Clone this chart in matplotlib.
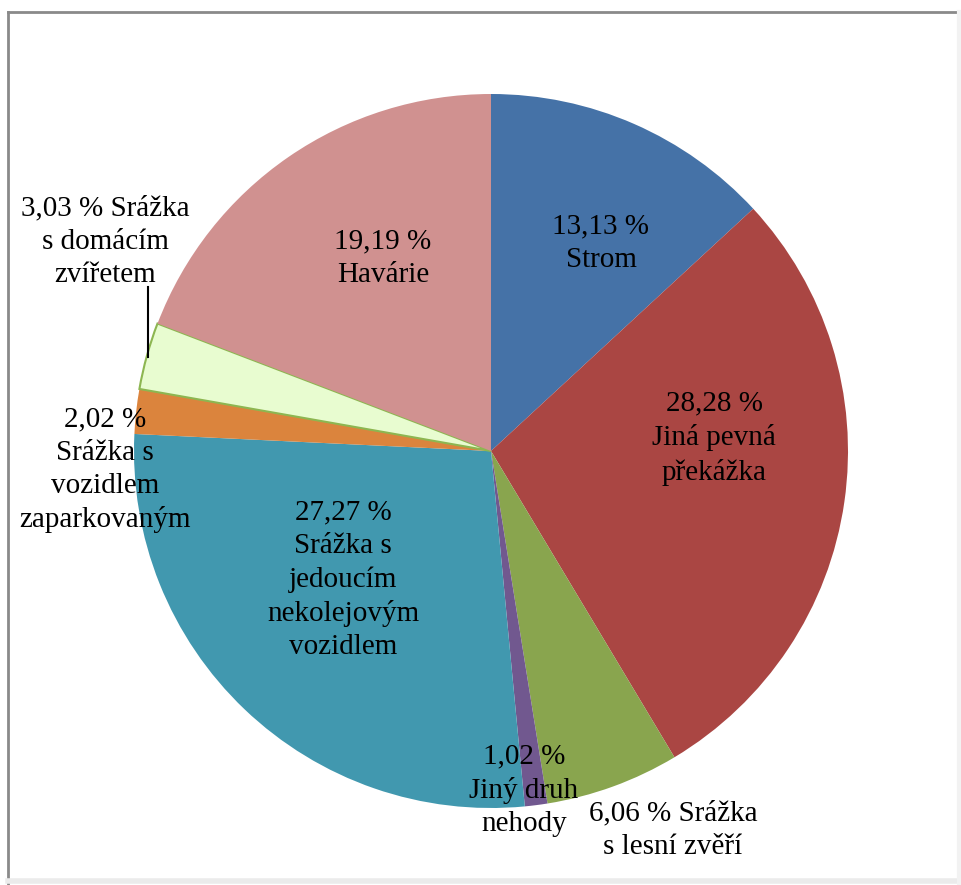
import matplotlib.pyplot as plt

plt.rcParams['font.family'] = ['Liberation Serif', 'DejaVu Serif']

labels = ['13,13 %\nStrom',
          '28,28 %\nJiná pevná\npřekážka',
          '6,06 % Srážka\ns lesní zvěří',
          '1,02 %\nJiný druh\nnehody',
          '27,27 %\nSrážka s\njedoucím\nnekolejovým\nvozidlem',
          '2,02 %\nSrážka s\nvozidlem\nzaparkovaným',
          '3,03 % Srážka\ns domácím\nzvířetem',
          '19,19 %\nHavárie']
values = [13.13, 28.28, 6.06, 1.02, 27.27, 2.02, 3.03, 19.19]
colors = ['#4572A7', '#AA4643', '#89A54E', '#71588F',
          '#4198AF', '#DB843D', '#E8FCD0', '#D09190']
explode = [0, 0, 0, 0, 0, 0, 0.025, 0]

# label anchor points (pixel space, y measured from top)
label_pos = [(601, 243), (714, 438), (673, 830), (524, 790),
             (343, 580), (105, 470), (105, 242), (383, 258)]

W, H = 961, 885
fig = plt.figure(figsize=(W / 100, H / 100), dpi=100)
ax = fig.add_axes([0, 0, 1, 1])

wedges, _ = ax.pie(values, colors=colors, startangle=90, counterclock=False,
                   center=(491, H - 451), radius=357, explode=explode,
                   wedgeprops=dict(linewidth=0), frame=True)
wedges[6].set_edgecolor('#8DB651')
wedges[6].set_linewidth(1.5)

ax.set_xlim(0, W)
ax.set_ylim(0, H)
ax.set_aspect('auto')
ax.axis('off')

for text, (px, py) in zip(labels, label_pos):
    ax.text(px, H - py, text, ha='center', va='center', fontsize=21,
            linespacing=1.36, color='black')

# leader line for the small slice
ax.plot([148, 148], [H - 287, H - 357], color='black', lw=1.5)

# chart frame: grey top/left, faint shadow right/bottom
ax.plot([8, W], [H - 12, H - 12], color='#8a8a8a', lw=2)
ax.plot([8, 8], [H - 12, 0], color='#8a8a8a', lw=2)
ax.plot([8, W], [H - 881, H - 881], color='#ebebeb', lw=4)
ax.plot([959, 959], [H - 12, 0], color='#f2f2f2', lw=3)

fig.savefig('out.png', dpi=100)
